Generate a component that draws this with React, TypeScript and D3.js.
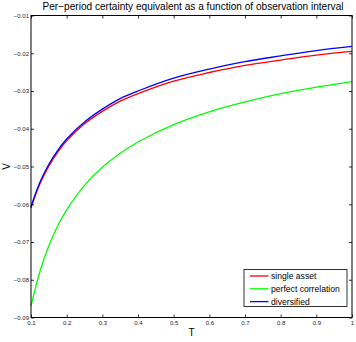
import React, { useEffect, useRef } from 'react';
import * as d3 from 'd3';

const W = 356;
const H = 342;
const margin = { top: 15.5, right: 4, bottom: 24.5, left: 31 };

// observation interval T
const T = [0.1, 0.125, 0.15, 0.175, 0.2, 0.25, 0.3, 0.35, 0.4, 0.5, 0.6, 0.7, 0.8, 0.9, 1.0];
const singleAsset = [-0.0610, -0.0546, -0.0499, -0.0462, -0.0432, -0.0387, -0.0354, -0.0327, -0.0307, -0.0274, -0.0251, -0.0232, -0.0218, -0.0205, -0.0195];
const perfectCorrelation = [-0.0870, -0.0778, -0.0710, -0.0657, -0.0615, -0.0550, -0.0502, -0.0465, -0.0435, -0.0389, -0.0355, -0.0329, -0.0307, -0.0290, -0.0275];
const diversified = [-0.0606, -0.0542, -0.0494, -0.0457, -0.0427, -0.0382, -0.0348, -0.0320, -0.0300, -0.0266, -0.0242, -0.0222, -0.0207, -0.0193, -0.0182];

const xTicks = [0.1, 0.2, 0.3, 0.4, 0.5, 0.6, 0.7, 0.8, 0.9, 1];
const yTicks = [-0.09, -0.08, -0.07, -0.06, -0.05, -0.04, -0.03, -0.02, -0.01];

const series = [
  { name: 'single asset', values: singleAsset, color: '#ff0000' },
  { name: 'perfect correlation', values: perfectCorrelation, color: '#00ff00' },
  { name: 'diversified', values: diversified, color: '#0000ff' },
];

const font = '"Liberation Sans", Arial, Helvetica, sans-serif';

function App() {
  const ref = useRef<SVGSVGElement>(null);

  useEffect(() => {
    const root = d3.select(ref.current);
    root.selectAll('*').remove();

    const x = d3.scaleLinear().domain([0.1, 1]).range([margin.left, W - margin.right]);
    const y = d3.scaleLinear().domain([-0.09, -0.01]).range([H - margin.bottom, margin.top]);

    const svg = root.append('g').attr('font-family', font);

    // lines
    const line = d3.line<number>()
      .x((d, i) => x(T[i]))
      .y(d => y(d))
      .curve(d3.curveCatmullRom);

    series.forEach(s => {
      svg.append('path')
        .datum(s.values)
        .attr('fill', 'none')
        .attr('stroke', s.color)
        .attr('stroke-width', 1.3)
        .attr('d', line);
    });

    // axes with inward ticks on all four sides
    const fmtX = (d: number) => d3.format('~g')(d);
    const fmtY = (d: number) => d3.format('.2f')(d);

    svg.append('g')
      .attr('transform', `translate(0,${y(-0.09)})`)
      .call(d3.axisBottom(x).tickValues(xTicks).tickSize(-3).tickPadding(3).tickFormat(fmtX as any))
      .call(g => g.select('.domain').remove());
    svg.append('g')
      .attr('transform', `translate(0,${y(-0.01)})`)
      .call(d3.axisTop(x).tickValues(xTicks).tickSize(-3).tickFormat(() => ''))
      .call(g => g.select('.domain').remove());
    svg.append('g')
      .attr('transform', `translate(${x(0.1)},0)`)
      .call(d3.axisLeft(y).tickValues(yTicks).tickSize(-3).tickPadding(2).tickFormat(fmtY as any))
      .call(g => g.select('.domain').remove());
    svg.append('g')
      .attr('transform', `translate(${x(1)},0)`)
      .call(d3.axisRight(y).tickValues(yTicks).tickSize(-3).tickFormat(() => ''))
      .call(g => g.select('.domain').remove());

    svg.selectAll('.tick line').attr('stroke', '#000').attr('stroke-width', 0.8);
    svg.selectAll('.tick text').attr('font-size', 6).attr('font-family', font).attr('fill', '#222');

    // frame
    svg.append('rect')
      .attr('x', x(0.1))
      .attr('y', y(-0.01))
      .attr('width', x(1) - x(0.1))
      .attr('height', y(-0.09) - y(-0.01))
      .attr('fill', 'none')
      .attr('stroke', '#000')
      .attr('stroke-width', 1);

    // title and axis labels
    svg.append('text')
      .attr('x', 193)
      .attr('y', 10)
      .attr('text-anchor', 'middle')
      .attr('font-size', 10.2)
      .attr('textLength', 301)
      .attr('lengthAdjust', 'spacingAndGlyphs')
      .text('Per\u2212period certainty equivalent as a function of observation interval');

    svg.append('text')
      .attr('x', (x(0.1) + x(1)) / 2)
      .attr('y', 336)
      .attr('text-anchor', 'middle')
      .attr('font-size', 10)
      .text('T');

    svg.append('text')
      .attr('transform', `translate(10,${(y(-0.01) + y(-0.09)) / 2}) rotate(-90)`)
      .attr('text-anchor', 'middle')
      .attr('font-size', 10)
      .text('V');

    // legend
    const legend = svg.append('g');
    legend.append('rect')
      .attr('x', 244)
      .attr('y', 269.5)
      .attr('width', 103)
      .attr('height', 37)
      .attr('fill', '#fff')
      .attr('stroke', '#000')
      .attr('stroke-width', 0.8);
    series.forEach((s, i) => {
      const ly = 276 + i * 12.8;
      legend.append('line')
        .attr('x1', 250).attr('x2', 268.5)
        .attr('y1', ly).attr('y2', ly)
        .attr('stroke', s.color)
        .attr('stroke-width', 1.3);
      legend.append('text')
        .attr('x', 271)
        .attr('y', ly + 3)
        .attr('font-size', 8.6)
        .text(s.name);
    });
  }, []);

  return (
    <svg
      ref={ref}
      width={W}
      height={H}
      style={{ position: 'absolute', left: 0, top: 0, background: '#fff' }}
    />
  );
}

export default App;
